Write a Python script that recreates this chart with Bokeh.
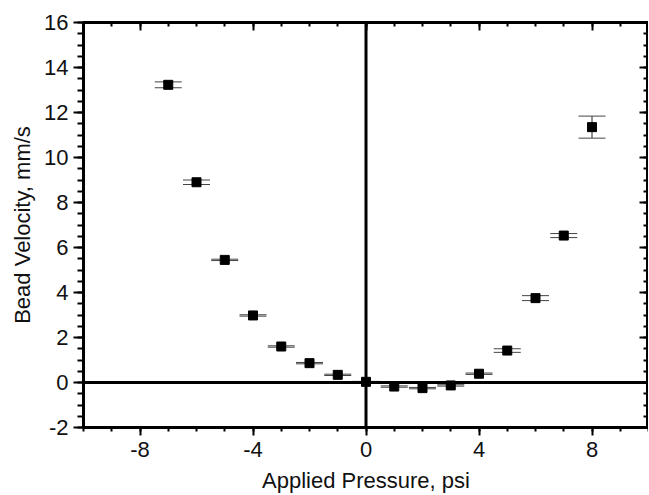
from bokeh.plotting import figure
from bokeh.models import (ColumnDataSource, Range1d, LinearAxis, FixedTicker, Span,
                          Whisker, TeeHead, CustomJSTickFormatter)
from bokeh.embed import file_html
from bokeh.resources import INLINE

# data
pressure = [-7, -6, -5, -4, -3, -2, -1, 0, 1, 2, 3, 4, 5, 6, 7, 8]
velocity = [13.23, 8.9, 5.45, 2.98, 1.6, 0.86, 0.34, 0.03, -0.18, -0.25, -0.13, 0.39, 1.42, 3.75, 6.53, 11.35]
error = [0.13, 0.1, 0.03, 0.03, 0.03, 0.03, 0.03, 0.02, 0.03, 0.03, 0.03, 0.03, 0.08, 0.11, 0.09, 0.49]
x_major = [-8, -4, 0, 4, 8]
x_minor = list(range(-10, 11))
y_major = [-2, 0, 2, 4, 6, 8, 10, 12, 14, 16]
y_minor = [v / 2 for v in range(-4, 33)]

src = ColumnDataSource(dict(
    x=pressure, y=velocity,
    upper=[v + e for v, e in zip(velocity, error)],
    lower=[v - e for v, e in zip(velocity, error)],
))

FONT = "Liberation Sans"

p = figure(frame_width=565, frame_height=405, output_backend="svg", toolbar_location=None,
           x_range=Range1d(-10, 10), y_range=Range1d(-2, 16),
           min_border_left=83, min_border_top=22, min_border_bottom=68, min_border_right=0,
           x_axis_label="Applied Pressure, psi", y_axis_label="Bead Velocity, mm/s")
p.grid.visible = False
p.background_fill_color = "white"
p.border_fill_color = "white"
p.outline_line_color = "black"
p.outline_line_width = 3

xt = FixedTicker(ticks=x_major, minor_ticks=x_minor)
yt = FixedTicker(ticks=y_major, minor_ticks=y_minor)

plain = CustomJSTickFormatter(code="return tick.toString();")
blank = CustomJSTickFormatter(code="return '';")


def style(ax, ticker, tin, tout, mtin, mtout, labels=True):
    ax.ticker = ticker
    ax.axis_line_width = 3
    ax.axis_line_color = "black"
    ax.major_tick_in = tin
    ax.major_tick_out = tout
    ax.minor_tick_in = mtin
    ax.minor_tick_out = mtout
    ax.major_tick_line_width = 2
    ax.minor_tick_line_width = 2
    ax.major_tick_line_color = "black"
    ax.minor_tick_line_color = "black"
    ax.major_label_text_font = FONT
    ax.major_label_text_font_size = "22px"
    ax.major_label_text_color = "#111111"
    ax.axis_label_text_font = FONT
    ax.axis_label_text_font_size = "22px"
    ax.axis_label_text_font_style = "normal"
    ax.axis_label_text_color = "#111111"
    if labels:
        ax.formatter = plain
    else:
        ax.formatter = blank
        ax.major_label_standoff = 0


style(p.xaxis[0], xt, 0, 8, 0, 4)
p.xaxis[0].major_label_standoff = 6
p.xaxis[0].axis_label_standoff = 8
style(p.yaxis[0], yt, 0, 10, 0, 6)
p.yaxis[0].major_label_standoff = 5
p.yaxis[0].axis_label_standoff = 6

top = LinearAxis()
style(top, FixedTicker(ticks=x_major, minor_ticks=x_minor), 8, 0, 4, 0, labels=False)
p.add_layout(top, "above")
right = LinearAxis()
style(right, FixedTicker(ticks=y_major, minor_ticks=y_minor), 9, 0, 5, 0, labels=False)
p.add_layout(right, "right")

p.add_layout(Span(location=0, dimension="width", line_color="black", line_width=3))
p.add_layout(Span(location=0, dimension="height", line_color="black", line_width=3))

w = Whisker(base="x", upper="upper", lower="lower", source=src, dimension="height",
            line_color="#222222", line_width=1,
            upper_head=TeeHead(size=27, line_color="#444444", line_width=1),
            lower_head=TeeHead(size=27, line_color="#444444", line_width=1))
p.add_layout(w)

p.scatter("x", "y", source=src, marker="square", size=9, fill_color="black", line_color="black")

open("out.html", "w").write(file_html(p, INLINE))
